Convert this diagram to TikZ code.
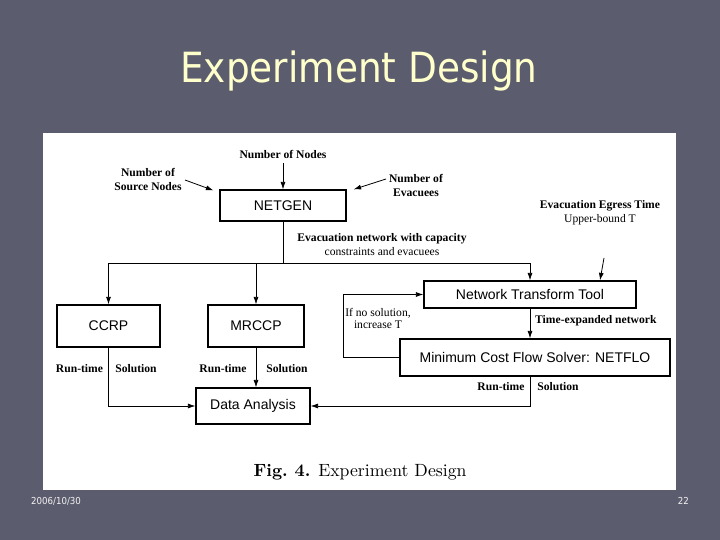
\documentclass[tikz,border=0pt]{standalone}
\usepackage{fontspec}
\usetikzlibrary{arrows.meta,calc}
\newfontfamily\serifx{Liberation Serif}
\newfontfamily\boxfont{Liberation Sans}
\newfontfamily\titlefont{DejaVu Sans Condensed}
\definecolor{slidebg}{HTML}{5B5D6E}
\definecolor{titlecol}{HTML}{FFFFCC}
\definecolor{footcol}{HTML}{F2F2F2}
\begin{document}
\begin{tikzpicture}[x=1pt,y=-1pt,
  box/.style={draw,line width=1.2pt,inner sep=0pt,font=\boxfont\fontsize{14}{16}\selectfont},
  lab/.style={font=\serifx\bfseries\fontsize{11.6}{14}\selectfont,align=center,inner sep=0pt},
  labr/.style={font=\serifx\fontsize{11.6}{12}\selectfont,align=center,inner sep=0pt},
  conn/.style={line width=0.8pt},
  arr/.style={conn,-{Latex[length=7.5pt,width=5pt]}}
]
\useasboundingbox (0,0) rectangle (720,540);
\fill[slidebg] (0,0) rectangle (720,540);
\fill[white] (43,133) rectangle (676,490);

% title and footer
\node[font=\titlefont\fontsize{41.6}{48}\selectfont,text=titlecol,anchor=base] (title) at (359,83) {Experiment Design};
\node[font=\titlefont\fontsize{9.6}{11}\selectfont,text=footcol,anchor=base west,inner sep=0pt] (date) at (31,504.5) {2006/10/30};
\node[font=\titlefont\fontsize{9.6}{11}\selectfont,text=footcol,anchor=base east,inner sep=0pt] (page) at (689,504.5) {22};

% boxes
\node[box,minimum width=126,minimum height=31] (netgen) at (283,205.5) {NETGEN};
\node[box,minimum width=103,minimum height=42] (ccrp) at (108.5,326) {CCRP};
\node[box,minimum width=96,minimum height=42] (mrccp) at (256,326) {MRCCP};
\node[box,minimum width=114,minimum height=36] (da) at (253,406) {Data Analysis};
\node[box,minimum width=212,minimum height=27] (ntt) at (530,294.5) {Network Transform Tool};
\node[box,minimum width=270,minimum height=37] (mcfs) at (535,357.5) {Minimum Cost Flow Solver: NETFLO};

% input labels
\node[lab] (nn) at (283,154) {Number of Nodes};
\node[lab] (src) at (148,179) {Number of\\Source Nodes};
\node[lab] (evac) at (416,185.5) {Number of\\Evacuees};
\node[lab] (evnet) at (382,245) {Evacuation network with capacity\\\mdseries constraints and evacuees};
\node[lab] (egress) at (600,212.5) {Evacuation Egress Time\\\mdseries Upper-bound T};
\node[labr] (nosol) at (378,318) {If no solution,\\increase T};
\node[lab,anchor=west] (texp) at (535,321) {Time-expanded network};

\node[lab] (rt1) at (79.5,369) {Run-time};
\node[lab] (so1) at (136,369) {Solution};
\node[lab] (rt2) at (223,369) {Run-time};
\node[lab] (so2) at (287,369) {Solution};
\node[lab] (rt3) at (501,387) {Run-time};
\node[lab] (so3) at (558,387) {Solution};

\node[anchor=base,inner sep=0pt] (cap) at (360,476) {\scalebox{1.77}{\fontsize{10}{12}\selectfont\textbf{Fig.~4.} Experiment Design}};

% connectors
\coordinate (srcA) at (185,180);
\coordinate (evA) at (386,179);
\coordinate (egA) at (604,258);
\coordinate (split) at (283,263);

\draw[arr] (nn.south) ++(0,5) -- (netgen.north);
\draw[arr] (srcA) -- ($(netgen.north west)+(-6,1)$);
\draw[arr] (evA) -- ($(netgen.north east)+(7,0)$);
\draw[arr] (egA) -- ($(ntt.north)+(70,0)$);

\draw[conn] (netgen.south) -- (split);
\draw[arr] (split) -| (ccrp.north);
\draw[arr] (split) -| (mrccp.north);
\draw[arr] (split) -| (ntt.north);

\draw[arr] (mcfs.west) -- ++(-56,0) |- (ntt.west);
\draw[arr] (ntt.south) -- (ntt.south |- mcfs.north);
\draw[arr] (mcfs.south -| ntt.south) |- (da.east);
\draw[arr] (ccrp.south) |- (da.west);
\draw[arr] (mrccp.south) -- (mrccp.south |- da.north);
\end{tikzpicture}
\end{document}
